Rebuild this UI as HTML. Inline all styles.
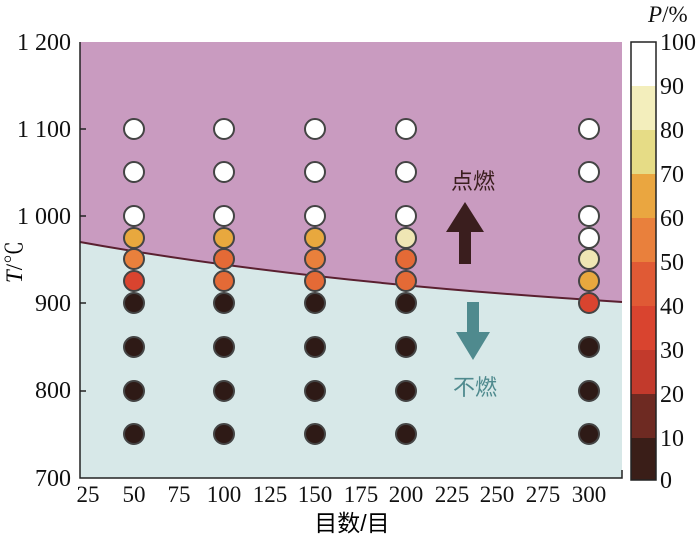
<!DOCTYPE html><html><head><meta charset="utf-8"><style>body{margin:0;background:#fff}</style></head><body>
<svg width="700" height="541" xmlns="http://www.w3.org/2000/svg" font-family="'Liberation Serif','Noto Serif CJK SC',serif">
<rect x="80" y="42" width="542" height="436" fill="#c99bc0"/>
<path d="M80,242 Q300,282 622,302 L622,478 L80,478 Z" fill="#d7e8e8"/>
<path d="M80,242 Q300,282 622,302" fill="none" stroke="#5a2030" stroke-width="2"/>
<path d="M80,42 V478 H622 V470" fill="none" stroke="#222" stroke-width="1.5"/>
<g font-size="24" fill="#111" text-anchor="end">
<text x="71" y="50">1 200</text><text x="71" y="137">1 100</text><text x="71" y="224">1 000</text><text x="71" y="311">900</text><text x="71" y="398">800</text><text x="71" y="486">700</text></g>
<g stroke="#222" stroke-width="1.5"><line x1="80" y1="129" x2="86" y2="129"/><line x1="80" y1="216" x2="86" y2="216"/><line x1="80" y1="303" x2="86" y2="303"/><line x1="80" y1="391" x2="86" y2="391"/></g>
<g font-size="23" fill="#111" text-anchor="middle">
<text x="88" y="502">25</text><text x="134" y="502">50</text><text x="179" y="502">75</text><text x="224" y="502">100</text><text x="270" y="502">125</text><text x="315" y="502">150</text><text x="361" y="502">175</text><text x="406" y="502">200</text><text x="452" y="502">225</text><text x="497" y="502">250</text><text x="543" y="502">275</text><text x="589" y="502">300</text></g>
<text x="352" y="531" font-size="23" text-anchor="middle" font-family="'Liberation Sans','Noto Sans CJK SC',sans-serif">目数/目</text>
<text transform="translate(22,262) rotate(-90)" font-size="23" text-anchor="middle"><tspan font-style="italic">T</tspan>/℃</text>
<g stroke="#444" stroke-width="2">
<g fill="#fff"><circle cx="134" cy="129" r="10"/><circle cx="134" cy="172" r="10"/><circle cx="134" cy="216" r="10"/>
<circle cx="224" cy="129" r="10"/><circle cx="224" cy="172" r="10"/><circle cx="224" cy="216" r="10"/>
<circle cx="315" cy="129" r="10"/><circle cx="315" cy="172" r="10"/><circle cx="315" cy="216" r="10"/>
<circle cx="406" cy="129" r="10"/><circle cx="406" cy="172" r="10"/><circle cx="406" cy="216" r="10"/>
<circle cx="589" cy="129" r="10"/><circle cx="589" cy="172" r="10"/><circle cx="589" cy="216" r="10"/><circle cx="589" cy="238" r="10"/></g>
<circle cx="134" cy="238" r="10" fill="#e8a83e"/><circle cx="134" cy="259" r="10" fill="#e9803c"/><circle cx="134" cy="281" r="10" fill="#d9442f"/>
<circle cx="224" cy="238" r="10" fill="#e8a83e"/><circle cx="224" cy="259" r="10" fill="#e46a36"/><circle cx="224" cy="281" r="10" fill="#e46a36"/>
<circle cx="315" cy="238" r="10" fill="#e8a83e"/><circle cx="315" cy="259" r="10" fill="#e9803c"/><circle cx="315" cy="281" r="10" fill="#e46a36"/>
<circle cx="406" cy="238" r="10" fill="#efe6b4"/><circle cx="406" cy="259" r="10" fill="#e46a36"/><circle cx="406" cy="281" r="10" fill="#e46a36"/>
<circle cx="589" cy="259" r="10" fill="#efe6b4"/><circle cx="589" cy="281" r="10" fill="#e8a83e"/><circle cx="589" cy="303" r="10" fill="#d9442f"/>
<g fill="#2e1a16"><circle cx="134" cy="303" r="10"/><circle cx="134" cy="347" r="10"/><circle cx="134" cy="391" r="10"/><circle cx="134" cy="434" r="10"/>
<circle cx="224" cy="303" r="10"/><circle cx="224" cy="347" r="10"/><circle cx="224" cy="391" r="10"/><circle cx="224" cy="434" r="10"/>
<circle cx="315" cy="303" r="10"/><circle cx="315" cy="347" r="10"/><circle cx="315" cy="391" r="10"/><circle cx="315" cy="434" r="10"/>
<circle cx="406" cy="303" r="10"/><circle cx="406" cy="347" r="10"/><circle cx="406" cy="391" r="10"/><circle cx="406" cy="434" r="10"/>
<circle cx="589" cy="347" r="10"/><circle cx="589" cy="391" r="10"/><circle cx="589" cy="434" r="10"/></g></g>
<polygon points="465,202 484,232 471,232 471,264 459,264 459,232 446,232" fill="#3a1e1e"/>
<polygon points="467,302 479,302 479,332 490,332 473,360 456,332 467,332" fill="#4f8a8e"/>
<g font-family="'Liberation Sans','Noto Sans CJK SC',sans-serif" font-size="22" text-anchor="middle">
<text x="473" y="189" fill="#3a1e1e">点燃</text><text x="475" y="395" fill="#4f8a8e">不燃</text></g>
<g>
<rect x="631" y="42" width="25" height="44" fill="#fff"/>
<rect x="631" y="86" width="25" height="44" fill="#f3eebc"/>
<rect x="631" y="130" width="25" height="44" fill="#e6dc86"/>
<rect x="631" y="174" width="25" height="44" fill="#eaa640"/>
<rect x="631" y="218" width="25" height="44" fill="#e9803c"/>
<rect x="631" y="262" width="25" height="44" fill="#e05a35"/>
<rect x="631" y="306" width="25" height="44" fill="#d9442f"/>
<rect x="631" y="350" width="25" height="44" fill="#c23a2c"/>
<rect x="631" y="394" width="25" height="44" fill="#6e2a22"/>
<rect x="631" y="438" width="25" height="42" fill="#3a1e18"/>
<rect x="631" y="42" width="25" height="438" fill="none" stroke="#222" stroke-width="1.5"/></g>
<g font-size="24" fill="#111">
<text x="660" y="50">100</text><text x="660" y="94">90</text><text x="660" y="138">80</text><text x="660" y="182">70</text><text x="660" y="226">60</text><text x="660" y="270">50</text><text x="660" y="314">40</text><text x="660" y="358">30</text><text x="660" y="402">20</text><text x="660" y="446">10</text><text x="660" y="488">0</text>
<text x="648" y="22" font-size="23"><tspan font-style="italic">P</tspan>/%</text></g>
</svg></body></html>
